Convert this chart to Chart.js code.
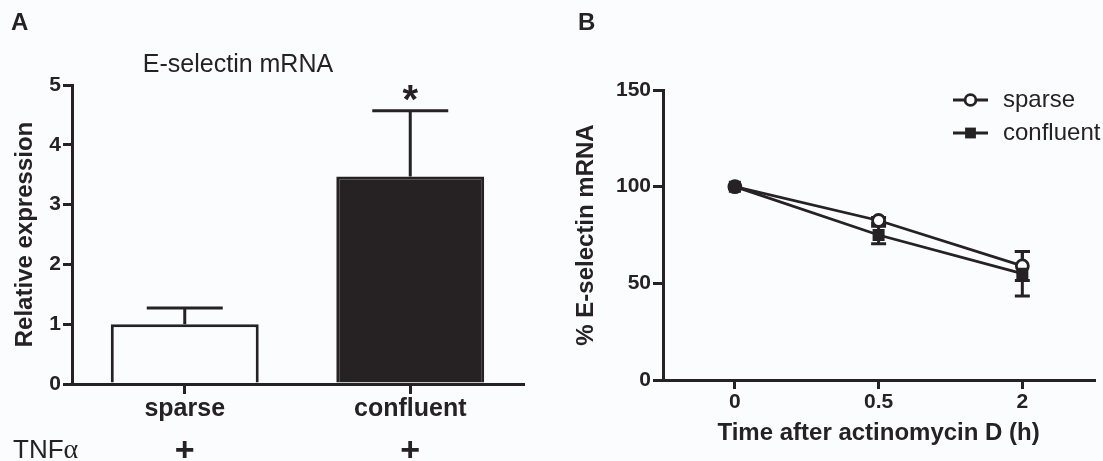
<!DOCTYPE html>
<html>
<head>
<meta charset="utf-8">
<script src="https://cdn.jsdelivr.net/npm/chart.js@4.4.1/dist/chart.umd.min.js"></script>
<style>
  html, body { margin: 0; padding: 0; background: #fbfcfe; overflow: hidden; }
  #wrap { position: relative; width: 1103px; height: 461px; font-family: "Liberation Sans", Arial, sans-serif; color: #262223; }
  canvas { position: absolute; top: 0; }
  .lbl { position: absolute; line-height: 1; white-space: nowrap; }
</style>
</head>
<body>
<div id="wrap">
  <canvas id="chartA" width="551" height="461" style="left:0"></canvas>
  <canvas id="chartB" width="552" height="461" style="left:551px"></canvas>
  <div class="lbl" style="left:11px;top:10px;font-size:24px;font-weight:bold">A</div>
  <div class="lbl" style="left:578px;top:10px;font-size:24px;font-weight:bold">B</div>
  <div class="lbl" style="left:138px;width:200px;text-align:center;top:51px;font-size:25px">E-selectin mRNA</div>
  <div class="lbl" style="left:13px;top:435px;font-size:26px">TNF<span style="font-family:'Liberation Serif',serif;font-size:28px">&alpha;</span></div>
</div>
<script>
// panel A - bar chart
const panelACategories = ['sparse', 'confluent'];
const panelAValues = [1.0, 3.47];
const panelAErrors = [0.27, 1.1];
const panelASignificance = ['', '*'];
const tnfTreatment = ['+', '+'];
const panelAYTicks = [0, 1, 2, 3, 4, 5];

// panel B - decay over time
const timeLabels = ['0', '0.5', '2'];
const sparseValues = [100, 82.5, 59];
const sparseErrors = [0, 1.5, 7.5];
const confluentValues = [100, 75, 55];
const confluentErrors = [0, 4.5, 11.5];
const panelBYTicks = [0, 50, 100, 150];

const ink = '#262223';
const paper = '#fbfcfe';
const fam = '"Liberation Sans", Arial, sans-serif';

Chart.defaults.font.family = fam;
Chart.defaults.color = ink;

function drawErrorBars(chart, opts) {
    const ctx = chart.ctx;
    const yScale = chart.scales.y;
    ctx.save();
    ctx.strokeStyle = ink;
    ctx.lineWidth = opts.lineWidth;
    chart.data.datasets.forEach((ds, di) => {
        const meta = chart.getDatasetMeta(di);
        (ds.errors || []).forEach((err, i) => {
            if (!err) return;
            const x = meta.data[i].x;
            const v = ds.data[i];
            const yTop = yScale.getPixelForValue(v + err);
            const yBot = yScale.getPixelForValue(opts.upperOnly ? v : v - err);
            const half = opts.capWidth / 2;
            ctx.beginPath();
            ctx.moveTo(x, yBot);
            ctx.lineTo(x, yTop);
            ctx.moveTo(x - half, yTop);
            ctx.lineTo(x + half, yTop);
            if (!opts.upperOnly) {
                ctx.moveTo(x - half, yBot);
                ctx.lineTo(x + half, yBot);
            }
            ctx.stroke();
            // significance mark
            if (ds.marks && ds.marks[i]) {
                ctx.fillStyle = ink;
                ctx.font = 'bold 40px ' + fam;
                ctx.textAlign = 'center';
                ctx.textBaseline = 'alphabetic';
                ctx.fillText(ds.marks[i], x, yTop + 2);
            }
        });
    });
    ctx.restore();
}

const errorBarPlugin = {
    id: 'errorBars',
    beforeDatasetsDraw(chart, args, opts) {
        if (opts.layer === 'before') drawErrorBars(chart, opts);
    },
    afterDatasetsDraw(chart, args, opts) {
        if (opts.layer !== 'before') drawErrorBars(chart, opts);
    }
};

// legend with a line through the marker, like the original
const lineLegendPlugin = {
    id: 'lineLegend',
    afterDraw(chart, args, opts) {
        if (!opts.display) return;
        const ctx = chart.ctx;
        chart.data.datasets.forEach((ds, i) => {
            const y = opts.top + i * opts.rowHeight;
            const x0 = opts.left;
            const cx = x0 + opts.symbolWidth / 2;
            ctx.save();
            ctx.strokeStyle = ink;
            ctx.lineWidth = ds.borderWidth;
            ctx.beginPath();
            ctx.moveTo(x0, y);
            ctx.lineTo(x0 + opts.symbolWidth, y);
            ctx.stroke();
            ctx.fillStyle = ds.pointBackgroundColor;
            ctx.strokeStyle = ink;
            ctx.lineWidth = ds.pointBorderWidth;
            Chart.helpers.drawPoint(ctx, {
                pointStyle: ds.pointStyle,
                radius: ds.pointRadius * opts.markerScale,
                borderWidth: ds.pointBorderWidth,
                rotation: 0
            }, cx, y);
            ctx.fillStyle = ink;
            ctx.font = opts.fontSize + 'px ' + fam;
            ctx.textAlign = 'left';
            ctx.textBaseline = 'middle';
            ctx.fillText(ds.label, x0 + opts.symbolWidth + opts.gap, y);
            ctx.restore();
        });
    }
};

// ---------- Panel A ----------
const chartA = new Chart(document.getElementById('chartA'), {
    type: 'bar',
    data: {
        labels: panelACategories,
        datasets: [{
            data: panelAValues,
            errors: panelAErrors,
            marks: panelASignificance,
            backgroundColor: [paper, ink],
            borderColor: ink,
            borderWidth: 3,
            barPercentage: 0.82,
            categoryPercentage: 0.8
        }]
    },
    options: {
        responsive: false,
        animation: false,
        devicePixelRatio: 1,
        layout: { padding: { left: 6.6, right: 28, top: 85, bottom: 0 } },
        scales: {
            x: {
                type: 'category',
                offset: true,
                grid: { offset: false, drawOnChartArea: false, tickLength: 10, lineWidth: 3, color: ink },
                border: { display: true, color: ink, width: 3 },
                ticks: { font: { size: 25, weight: 'bold' }, color: ink, padding: 0 },
                afterFit: s => { s.height = 77; }
            },
            y: {
                min: 0,
                max: 5,
                afterBuildTicks: s => { s.ticks = panelAYTicks.map(v => ({ value: v })); },
                grid: { drawOnChartArea: false, tickLength: 9, lineWidth: 3, color: ink },
                border: { display: true, color: ink, width: 3 },
                ticks: { font: { size: 21, weight: 'bold' }, color: ink, padding: 2 },
                title: { display: true, text: 'Relative expression', font: { size: 24, weight: 'bold' }, color: ink },
                afterFit: s => { s.width = 65.4; }
            }
        },
        plugins: {
            legend: { display: false },
            tooltip: { enabled: false },
            errorBars: { lineWidth: 3, capWidth: 76, upperOnly: true, layer: 'after' }
        }
    },
    plugins: [errorBarPlugin]
});

// TNFa row under the category labels
tnfTreatment.forEach((t, i) => {
    const d = document.createElement('div');
    d.className = 'lbl';
    d.textContent = t;
    d.style.left = (chartA.scales.x.getPixelForValue(i) - 50) + 'px';
    d.style.width = '100px';
    d.style.textAlign = 'center';
    d.style.top = '432px';
    d.style.fontSize = '34px';
    d.style.fontWeight = 'bold';
    document.getElementById('wrap').appendChild(d);
});

// ---------- Panel B ----------
new Chart(document.getElementById('chartB'), {
    type: 'line',
    data: {
        labels: timeLabels,
        datasets: [{
            label: 'sparse',
            data: sparseValues,
            errors: sparseErrors,
            borderColor: ink,
            borderWidth: 2.8,
            pointStyle: 'circle',
            pointRadius: 6,
            pointBorderWidth: 2.8,
            pointBackgroundColor: '#ffffff',
            pointBorderColor: ink,
            tension: 0,
            order: 2
        }, {
            label: 'confluent',
            data: confluentValues,
            errors: confluentErrors,
            borderColor: ink,
            borderWidth: 2.8,
            pointStyle: 'rect',
            pointRadius: 8.5,
            pointBorderWidth: 0,
            pointBackgroundColor: ink,
            pointBorderColor: ink,
            tension: 0,
            order: 1
        }]
    },
    options: {
        responsive: false,
        animation: false,
        devicePixelRatio: 1,
        layout: { padding: { left: 16.6, right: 3, top: 90, bottom: 9.6 } },
        scales: {
            x: {
                type: 'category',
                offset: true,
                grid: { offset: false, drawOnChartArea: false, tickLength: 9, lineWidth: 3, color: ink },
                border: { display: true, color: ink, width: 3 },
                ticks: { font: { size: 21, weight: 'bold' }, color: ink, padding: 1 },
                title: { display: true, text: 'Time after actinomycin D (h)', font: { size: 24, weight: 'bold' }, color: ink },
                afterFit: s => { s.height = 71.4; }
            },
            y: {
                min: 0,
                max: 150,
                afterBuildTicks: s => { s.ticks = panelBYTicks.map(v => ({ value: v })); },
                grid: { drawOnChartArea: false, tickLength: 10, lineWidth: 3, color: ink },
                border: { display: true, color: ink, width: 3 },
                ticks: { font: { size: 21, weight: 'bold' }, color: ink, padding: 2 },
                title: { display: true, text: '% E-selectin mRNA', font: { size: 24, weight: 'bold' }, color: ink },
                afterFit: s => { s.width = 95.4; }
            }
        },
        plugins: {
            legend: { display: false },
            tooltip: { enabled: false },
            errorBars: { lineWidth: 3, capWidth: 15, upperOnly: false, layer: 'before' },
            lineLegend: { display: true, left: 402, top: 100, rowHeight: 33, symbolWidth: 35, gap: 15, fontSize: 24, markerScale: 0.9 }
        }
    },
    plugins: [errorBarPlugin, lineLegendPlugin]
});
</script>
</body>
</html>
